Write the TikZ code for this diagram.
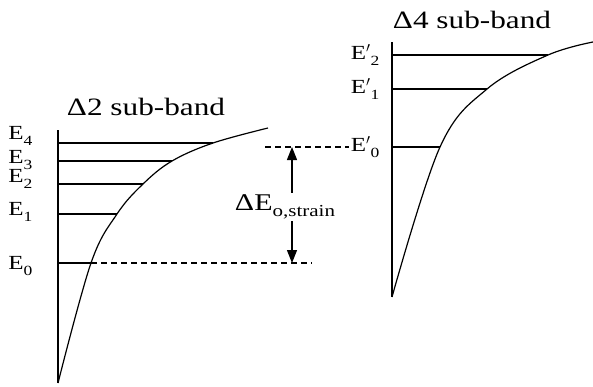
\documentclass[tikz,border=0pt]{standalone}
\usepackage{fontspec}
\setmainfont{Liberation Serif}
\newfontfamily\widefont[FakeStretch=1.25]{Liberation Serif}
\usepackage{graphicx}
\usetikzlibrary{positioning}
\usetikzlibrary{arrows.meta}

\newcommand{\lowidx}[1]{\raisebox{-0.28em}{\scalebox{0.7}{#1}}}

\begin{document}
\begin{tikzpicture}[x=1pt, y=-1pt, line width=1.1pt,
    axis/.style={line width=1.7pt},
    band/.style={line width=1.2pt},
    lvl/.style={line width=1.1pt},
    gap/.style={line width=1.2pt, dash pattern=on 6pt off 4pt},
    arr/.style={line width=1.2pt, -{Triangle[width=10pt, length=13pt]}},
    lbl/.style={inner sep=1pt, font=\widefont\fontsize{20}{22}\selectfont},
    title/.style={inner sep=0pt, font=\widefont\fontsize{25}{28}\selectfont}]

    \useasboundingbox (0,0) rectangle (593,386);

    % Delta2 sub-band
    \coordinate (ltop) at (58,130);
    \coordinate (lbot) at (58,383);
    \draw[axis] (ltop) -- (lbot);
    \node[title] (t2) at (146,107) {Δ2 sub-band};

    \foreach \n/\yy/\xx/\dy in {0/263/91/-3, 1/214/117/2, 2/184/143/5, 3/161/172/1, 4/143/213/7} {
        \coordinate (a\n) at (58,\yy);
        \coordinate (c\n) at (\xx,\yy);
        \draw[lvl] (a\n) -- (c\n);
        \node[lbl, left=24pt of a\n, yshift=\dy pt] (E\n) {E\lowidx{\n}};
    }

    \draw[band] plot[smooth, tension=0.6] coordinates
        {(lbot) (c0) (c1) (c2) (c3) (c4) (268,128)};

    % Delta4 sub-band
    \coordinate (rtop) at (392,42);
    \coordinate (rbot) at (392,297);
    \draw[axis] (rtop) -- (rbot);
    \node[title] (t4) at (472,20) {Δ4 sub-band};

    \foreach \n/\yy/\xx in {0/147/440, 1/89/487, 2/55/548} {
        \coordinate (b\n) at (392,\yy);
        \coordinate (d\n) at (\xx,\yy);
        \draw[lvl] (b\n) -- (d\n);
        \node[lbl, left=11pt of b\n] (F\n) {E$'$\lowidx{\n}};
    }

    \draw[band] plot[smooth, tension=0.6] coordinates
        {(rbot) (d0) (d1) (d2) (593,42)};

    % strain splitting
    \coordinate (g0) at (312,263);
    \coordinate (g1) at (265,147);
    \coordinate (up) at (292,147);
    \coordinate (dn) at (292,263);
    \draw[gap] (c0) -- (g0);
    \draw[gap] (g1) -- (F0.west);

    \node[lbl, font=\widefont\fontsize{24}{26}\selectfont] (dE) at (285,207) {ΔE\lowidx{o,strain}};
    \draw[arr] (dE.north -| up) -- (up);
    \draw[arr] (dE.south -| dn) -- (dn);

\end{tikzpicture}
\end{document}
